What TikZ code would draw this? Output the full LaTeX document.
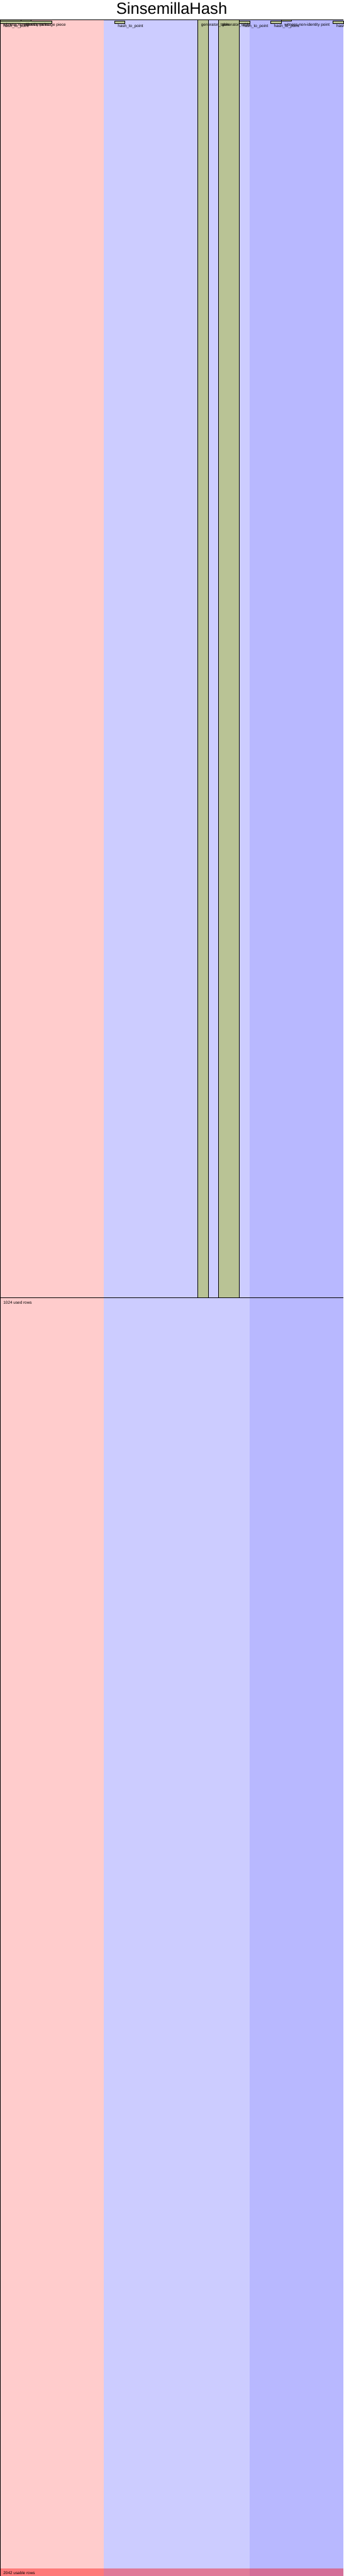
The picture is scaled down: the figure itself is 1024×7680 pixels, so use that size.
\documentclass[tikz,border=0pt]{standalone}
\usepackage{fontspec}
\setmainfont{Liberation Sans}
\usetikzlibrary{positioning}
\definecolor{advicebg}{HTML}{FFCCCC}
\definecolor{fixedbg}{HTML}{CCCCFF}
\definecolor{selectorbg}{HTML}{B8B8FF}
\definecolor{regionbg}{HTML}{CCD6A3}
\definecolor{assignedbg}{HTML}{B9C395}
\definecolor{loosecell}{HTML}{B8B8E6}
\tikzset{
    region/.style={
        draw=black,
        line width=1pt,
        fill=assignedbg
    },
    regionedge/.style={draw=black, line width=1pt},
    freecell/.style={fill=regionbg, draw=none},
    regionlabel/.style={
        font=\fontsize{12}{14}\selectfont,
        anchor=base west,
        inner sep=0pt,
        xshift=10pt,
        yshift=-19.3pt
    },
    rowline/.style={draw=black, line width=1pt},
    unusable/.style={fill=red, fill opacity=0.4, draw=none},
    plottitle/.style={font=\fontsize{48}{56}\selectfont, anchor=base, inner sep=0pt}
}

\begin{document}
\begin{tikzpicture}[x=1pt, y=-1pt]
\useasboundingbox[fill=white] (0,0) rectangle (1024,7680);
\node[plottitle] (title) at (512,42.7) {SinsemillaHash};

\begin{scope}[x=31.0303pt, y=-3.721pt, yshift=-58.3pt]
% column backgrounds
\fill[advicebg] (0,0) rectangle (10,2048.5);
\fill[fixedbg] (10,0) rectangle (24,2048.5);
\fill[selectorbg] (24,0) rectangle (33,2048.5);
\fill[loosecell] (10,0) rectangle (11,1);

% regions
\draw[region] (0,0) rectangle (2,1);
\draw[region] (2,0) rectangle (3,1);
\fill[assignedbg] (0,1) rectangle (5,3);
\fill[freecell] (2,2) rectangle (3,3);
\draw[regionedge] (0,1) rectangle (5,3);
\draw[region] (11,1) rectangle (12,3);
\draw[region] (19,0) rectangle (20,1024);
\draw[region] (21,0) rectangle (23,1024);
\draw[region] (23,1) rectangle (24,3);
\draw[region] (26,1) rectangle (27,3);
\draw[region] (27,0) rectangle (28,1);
\draw[region] (32,1) rectangle (33,3);

% used and usable rows
\draw[rowline] (0,1024) -- (33,1024);
\fill[unusable] (0,2042) rectangle (33,2048.5);
\draw[rowline] ([xshift=0.6pt]0,2048.5) -- ([xshift=0.6pt]0,0) -- (33,0);

% labels
\node[regionlabel] (pointA) at (0,0) {witness non-identity point};
\node[regionlabel] (piece) at (2,0) {witness message piece};
\node[regionlabel] (htpA) at (0,1) {hash\_to\_point};
\node[regionlabel] (htpB) at (11,1) {hash\_to\_point};
\node[regionlabel] (tableA) at (19,0) {generator\_table};
\node[regionlabel] (tableB) at (21,0) {generator\_table};
\node[regionlabel] (htpC) at (23,1) {hash\_to\_point};
\node[regionlabel] (htpD) at (26,1) {hash\_to\_point};
\node[regionlabel] (pointB) at (27,0) {witness non-identity point};
\node[regionlabel] (htpE) at (32,1) {hash\_to\_point};
\node[regionlabel] (used) at (0,1024) {1024 used rows};
\node[regionlabel] (usable) at (0,2042) {2042 usable rows};
\end{scope}
\end{tikzpicture}
\end{document}
